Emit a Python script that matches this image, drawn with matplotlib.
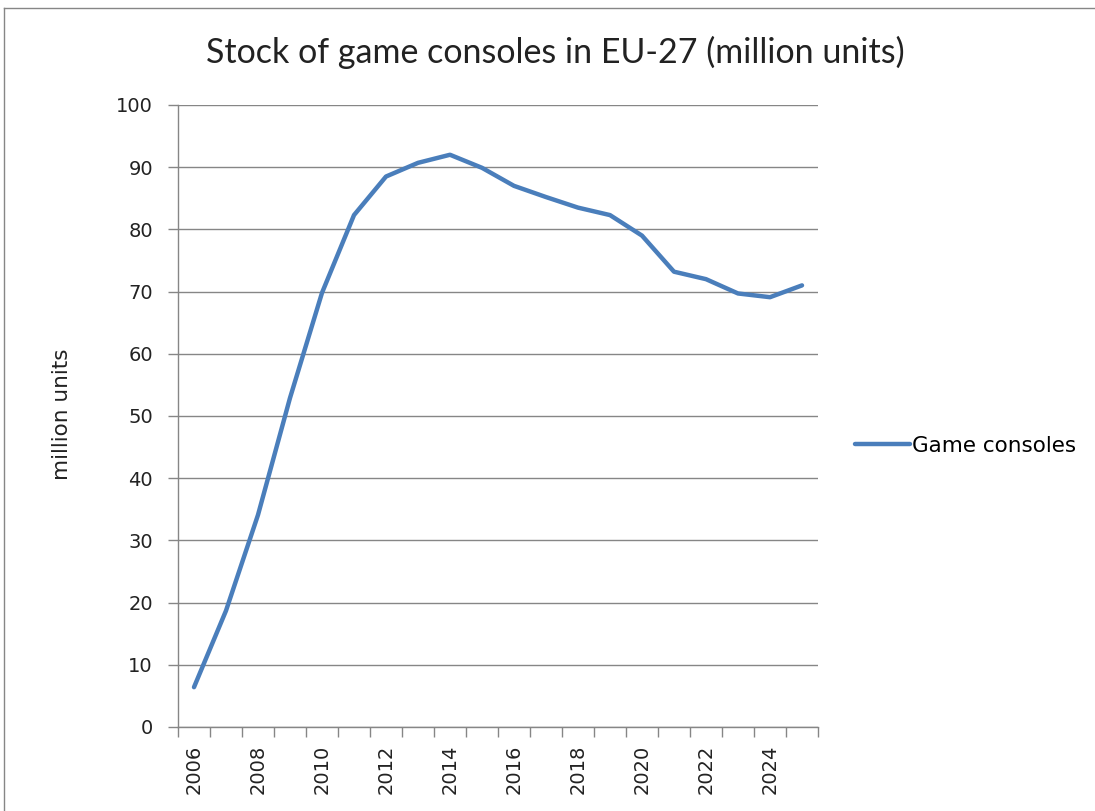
import numpy as np
import matplotlib.pyplot as plt
from matplotlib.lines import Line2D

years = list(range(2006, 2026))
consoles = [6.4, 18.7, 34.1, 52.9, 69.8, 82.3, 88.5, 90.7, 92.0, 89.9,
            87.0, 85.2, 83.5, 82.3, 79.0, 73.2, 72.0, 69.7, 69.1, 71.0]
tick_labels = [str(y) for y in years[::2]]

W, H = 1095, 811
fig = plt.figure(figsize=(W / 100, H / 100), dpi=100)
ax = fig.add_axes([178 / W, 1 - 727 / H, (818 - 178) / W, (727 - 105) / H])

grey = '#868686'
x = np.arange(len(years))
ax.plot(x, consoles, color='#4A7EBB', lw=3.2, solid_capstyle='round',
        solid_joinstyle='round', label='Game consoles', zorder=3)

ax.set_xlim(-0.5, len(years) - 0.5)
ax.set_ylim(0, 100)
ax.set_yticks(range(0, 101, 10))
ax.yaxis.grid(True, color=grey, lw=1)
ax.set_axisbelow(True)

# category boundaries as major ticks, labels on minor ticks at centres
ax.set_xticks(np.arange(-0.5, len(years), 1.0))
ax.set_xticklabels([])
ax.set_xticks(x[::2], minor=True)
ax.set_xticklabels(tick_labels, minor=True, rotation=90, fontsize=14,
                   family='DejaVu Sans', color='#222222')
ax.tick_params(axis='x', which='major', length=7, color=grey, width=1)
ax.tick_params(axis='x', which='minor', length=0, pad=13)
ax.tick_params(axis='y', length=7, color=grey, width=1, labelsize=14, pad=11,
               labelcolor='#222222')

for s in ['top', 'right']:
    ax.spines[s].set_visible(False)
for s in ['left', 'bottom']:
    ax.spines[s].set_color(grey)
    ax.spines[s].set_linewidth(1)

fig.text(62 / W, 1 - 414 / H, 'million units', rotation=90, fontsize=15.5,
         ha='center', va='center', family='DejaVu Sans', color='#222222')
fig.text(555 / W, 1 - 52 / H, 'Stock of game consoles in EU-27 (million units)',
         fontsize=24.5, ha='center', va='center', family='Lato', color='#222222')

fig.legend(loc='center left', bbox_to_anchor=(855 / W, 1 - 446 / H),
           frameon=False, handlelength=2.55, handletextpad=0.12,
           borderpad=0, borderaxespad=0,
           prop={'family': 'DejaVu Sans', 'size': 15.5})

# chart border (top and left edges visible in the reference)
fig.add_artist(Line2D([4 / W, 4 / W], [0, 1 - 8 / H], transform=fig.transFigure,
                      color=grey, lw=1))
fig.add_artist(Line2D([4 / W, 1], [1 - 8 / H, 1 - 8 / H], transform=fig.transFigure,
                      color=grey, lw=1))

fig.savefig('out.png', dpi=100)
